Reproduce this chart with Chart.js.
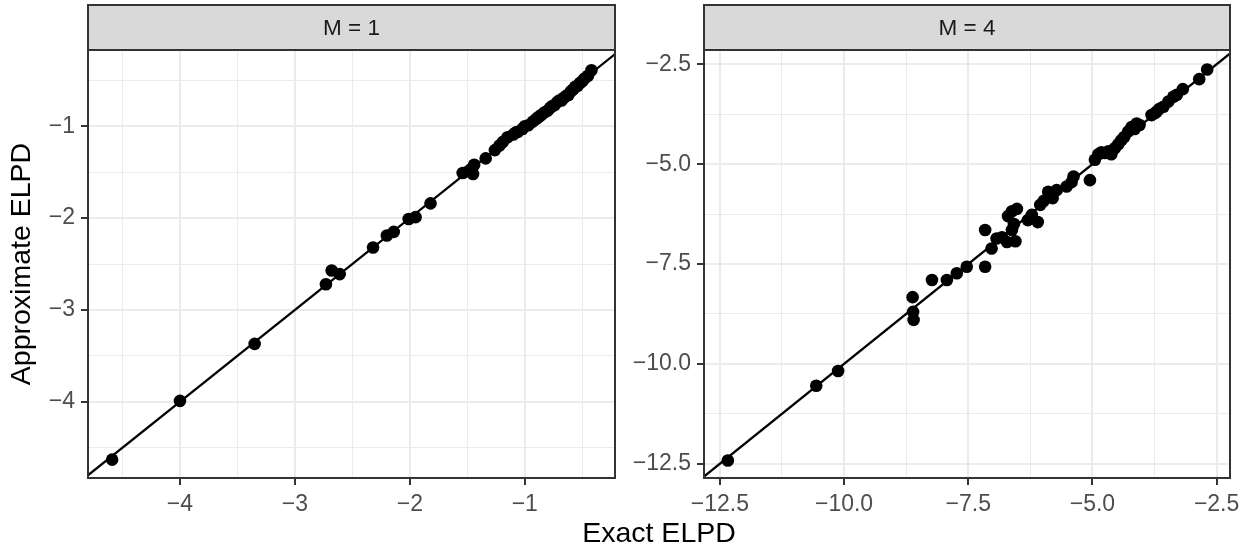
<!DOCTYPE html>
<html><head><meta charset="utf-8">
<script src="https://cdn.jsdelivr.net/npm/chart.js@4.4.1/dist/chart.umd.min.js"></script>
<style>
html,body{margin:0;padding:0;background:#fff;}
#wrap{position:relative;width:1247px;height:548px;overflow:hidden;background:#fff;}
canvas{position:absolute;top:0;}
#xtitle{position:absolute;left:459px;width:400px;top:518px;text-align:center;font-family:"Liberation Sans",Arial,sans-serif;font-size:28.5px;line-height:28px;color:#000;}
</style></head><body>
<div id="wrap">
<canvas id="c1" width="623" height="548" style="left:0px"></canvas>
<canvas id="c2" width="624" height="548" style="left:623px"></canvas>
<div id="xtitle">Exact ELPD</div>
</div>
<script>
const panelLabels = ['M = 1', 'M = 4'];
const xTitle = 'Exact ELPD';
const yTitle = 'Approximate ELPD';

// Panel M = 1
const m1Exact = [-4.59,-4.00,-3.35,-2.73,-2.68,-2.61,-2.32,-2.20,-2.14,-2.01,-1.95,-1.82,-1.54,-1.47,-1.44,-1.45,-1.49,-1.34,-1.26,-1.22,-1.19,-1.15,-1.10,-1.08,-1.06,-1.02,-1.00,-0.97,-0.93,-0.90,-0.88,-0.86,-0.83,-0.80,-0.78,-0.76,-0.74,-0.72,-0.70,-0.68,-0.66,-0.64,-0.62,-0.60,-0.58,-0.56,-0.54,-0.52,-0.50,-0.48,-0.45,-0.42];
const m1Approx = [-4.63,-3.99,-3.37,-2.72,-2.57,-2.61,-2.32,-2.19,-2.15,-2.01,-1.99,-1.84,-1.51,-1.47,-1.42,-1.52,-1.49,-1.35,-1.26,-1.21,-1.17,-1.12,-1.09,-1.07,-1.06,-1.03,-1.00,-0.99,-0.95,-0.92,-0.90,-0.88,-0.85,-0.83,-0.80,-0.78,-0.77,-0.74,-0.72,-0.72,-0.69,-0.67,-0.66,-0.62,-0.60,-0.57,-0.56,-0.53,-0.51,-0.48,-0.45,-0.39];

// Panel M = 4
const m4Exact = [-12.34,-10.56,-10.12,-8.62,-8.61,-8.60,-8.23,-7.93,-7.73,-7.53,-7.16,-7.16,-7.03,-6.93,-6.82,-6.72,-6.70,-6.62,-6.52,-6.58,-6.55,-6.62,-6.30,-6.22,-6.10,-6.05,-5.98,-5.89,-5.80,-5.72,-5.52,-5.42,-5.38,-5.05,-4.95,-4.88,-4.82,-4.75,-4.68,-4.62,-4.55,-4.48,-4.42,-4.36,-4.28,-4.21,-4.15,-4.11,-4.05,-3.81,-3.74,-3.71,-3.66,-3.57,-3.47,-3.37,-3.30,-3.18,-2.85,-2.69];
const m4Approx = [-12.42,-10.55,-10.18,-8.33,-8.70,-8.90,-7.90,-7.90,-7.73,-7.57,-6.65,-7.57,-7.11,-6.86,-6.83,-6.95,-6.30,-6.18,-6.12,-6.50,-6.93,-6.65,-6.40,-6.27,-6.45,-6.02,-5.92,-5.69,-5.85,-5.65,-5.56,-5.45,-5.31,-5.40,-4.89,-4.75,-4.70,-4.72,-4.68,-4.75,-4.60,-4.50,-4.40,-4.32,-4.18,-4.07,-4.12,-3.98,-4.02,-3.77,-3.72,-3.69,-3.62,-3.56,-3.43,-3.31,-3.26,-3.12,-2.87,-2.63];

// axis limits [min, max]
const m1XLim = [-4.80, -0.215];
const m1YLim = [-4.83, -0.17];
const m4XLim = [-12.82, -2.23];
const m4YLim = [-12.86, -2.14];

// ticks
const m1Major = [-4, -3, -2, -1];
const m1Minor = [-4.5, -3.5, -2.5, -1.5, -0.5];
const m4Major = [-12.5, -10.0, -7.5, -5.0, -2.5];
const m4Minor = [-11.25, -8.75, -6.25, -3.75];

const FONT = '"Liberation Sans", Arial, sans-serif';

function fmtMinus(s){ return s.replace('-', '\u2212'); }

const stripPlugin = {
  id: 'strip',
  afterDatasetsDraw(chart, args, opts) {
    const ctx = chart.ctx, a = chart.chartArea;
    ctx.save();
    ctx.strokeStyle = '#333333';
    ctx.lineWidth = 2;
    ctx.strokeRect(a.left, a.top, a.right - a.left, a.bottom - a.top);
    const sTop = 5;
    ctx.fillStyle = '#D9D9D9';
    ctx.fillRect(a.left, sTop, a.right - a.left, a.top - sTop);
    ctx.strokeRect(a.left, sTop, a.right - a.left, a.top - sTop);
    ctx.fillStyle = '#1A1A1A';
    ctx.font = '22.5px ' + FONT;
    ctx.textAlign = 'center';
    ctx.textBaseline = 'middle';
    ctx.fillText(opts.label, (a.left + a.right) / 2, (sTop + a.top) / 2 + 1);
    ctx.restore();
  }
};

function makeChart(id, xs, ys, xLim, yLim, major, minor, fmt, label, yAxisW, padRight, showYTitle) {
  const isMajor = v => major.some(m => Math.abs(m - v) < 1e-9);
  const allTicks = major.concat(minor).sort((a, b) => a - b);
  const grid = {
    color: '#EBEBEB',
    lineWidth: c => (c.tick && isMajor(c.tick.value)) ? 2 : 1,
    tickColor: c => (c.tick && isMajor(c.tick.value)) ? '#333333' : 'rgba(0,0,0,0)',
    tickWidth: 2,
    tickLength: 7,
    drawTicks: true
  };
  const ticks = {
    autoSkip: false, maxRotation: 0, minRotation: 0,
    color: '#4D4D4D', padding: 6,
    font: { family: FONT, size: 23 },
    callback: v => isMajor(v) ? fmt(v) : ''
  };
  const pts = xs.map((x, i) => ({ x: x, y: ys[i] }));
  const lo = Math.min(xLim[0], yLim[0]), hi = Math.max(xLim[1], yLim[1]);
  const ref = [lo, hi].map(v => ({ x: v, y: v }));
  return new Chart(document.getElementById(id), {
    type: 'scatter',
    data: {
      datasets: [
        { type: 'line', data: ref, borderColor: '#000', borderWidth: 2.3, pointRadius: 0, fill: false, clip: 0, order: 0 },
        { data: pts, backgroundColor: '#000', borderWidth: 0, pointRadius: 6.3, pointHoverRadius: 6.3, clip: 0, order: 1 }
      ]
    },
    options: {
      responsive: false, animation: false, devicePixelRatio: 1, events: [],
      layout: { padding: { top: 50, left: 0, right: padRight, bottom: 0 } },
      plugins: { legend: { display: false }, tooltip: { enabled: false }, strip: { label: label } },
      scales: {
        x: {
          type: 'linear', min: xLim[0], max: xLim[1],
          afterBuildTicks: ax => { ax.ticks = allTicks.map(v => ({ value: v })); },
          afterFit: ax => { ax.height = 70; },
          grid: grid, border: { display: false }, ticks: ticks
        },
        y: {
          type: 'linear', min: yLim[0], max: yLim[1],
          afterBuildTicks: ax => { ax.ticks = allTicks.map(v => ({ value: v })); },
          afterFit: ax => { ax.width = yAxisW; },
          grid: grid, border: { display: false }, ticks: ticks,
          title: { display: showYTitle, text: yTitle, color: '#000', font: { family: FONT, size: 28.5 }, padding: { top: 5, bottom: 0 } }
        }
      }
    },
    plugins: [stripPlugin]
  });
}

makeChart('c1', m1Exact, m1Approx, m1XLim, m1YLim, m1Major, m1Minor,
  v => fmtMinus(String(v)), panelLabels[0], 88, 8, true);
makeChart('c2', m4Exact, m4Approx, m4XLim, m4YLim, m4Major, m4Minor,
  v => fmtMinus(v.toFixed(1)), panelLabels[1], 81, 17, false);
document.getElementById('xtitle').textContent = xTitle;
</script>
</body></html>
